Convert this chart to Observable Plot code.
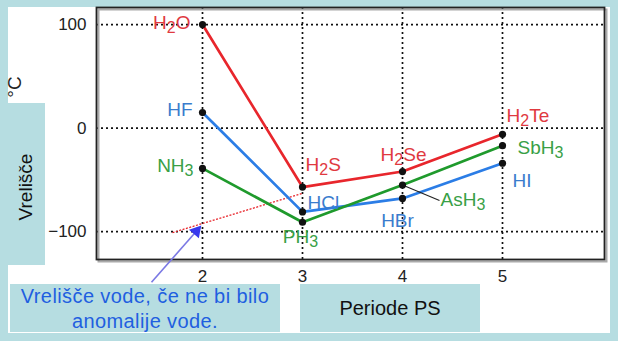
<!DOCTYPE html>
<html>
<head>
<meta charset="utf-8">
<script src="https://cdn.jsdelivr.net/npm/d3@7"></script>
<script src="https://cdn.jsdelivr.net/npm/@observablehq/plot@0.6"></script>
<style>
  html, body { margin: 0; padding: 0; }
  body { width: 618px; height: 341px; overflow: hidden; position: relative; background: #b6dde1; font-family: "Liberation Sans", Arial, sans-serif; }
  .abs { position: absolute; }
  #panel { left: 8px; top: 7px; width: 602px; height: 326px; background: #fff; overflow: hidden; }
  #degc { left: 0px; top: 77px; width: 30px; height: 20px; transform: rotate(-90deg); font-size: 19px; color: #222; line-height: 20px; text-align: center; }
  #ybox { left: 8px; top: 103px; width: 37px; height: 162px; background: #b6dde1; }
  #ylab { left: -44px; top: 176px; width: 140px; height: 22px; transform: rotate(-90deg); font-size: 19px; color: #111; line-height: 22px; text-align: center; }
  #note { left: 10px; top: 284px; width: 270px; height: 48px; background: #b6dde1; color: #1f5fe0; font-size: 20px; letter-spacing: 0.4px; line-height: 25px; text-align: center; }
  #xbox { left: 300px; top: 284px; width: 180px; height: 48px; background: #b6dde1; color: #111; font-size: 20px; line-height: 48px; text-align: center; }
  #chart { left: 0; top: 0; }
</style>
</head>
<body>
<div id="panel" class="abs"></div>
<div id="degc" class="abs">°C</div>
<div id="ybox" class="abs"></div>
<div id="ylab" class="abs">Vrelišče</div>
<div id="note" class="abs">Vrelišče vode, če ne bi bilo<br>anomalije vode.</div>
<div id="xbox" class="abs">Periode PS</div>
<div id="chart" class="abs"></div>
<script>
// ---- data ----
const periods = [2, 3, 4, 5];
const oxygenGroup = ["H2O", "H2S", "H2Se", "H2Te"];
const oxygenBp = [100, -57, -42, -6];
const halogenGroup = ["HF", "HCl", "HBr", "HI"];
const halogenBp = [15, -81, -68, -34];
const nitrogenGroup = ["NH3", "PH3", "AsH3", "SbH3"];
const nitrogenBp = [-39, -91, -55, -17];
const xTicks = [2, 3, 4, 5];
const yTicks = [-100, 0, 100];
// water extrapolation (dotted) endpoints
const extrapPeriod = [1.7, 3];
const extrapBp = [-101, -63];
// annotation arrow (tail -> tip) and AsH3 leader end
const arrowPeriod = [1.49, 2.0];
const arrowBp = [-149, -93];
const leaderPeriod = [4, 4.37];
const leaderBp = [-55, -70];

// ---- styles / layout ----
const seriesNames = ["oxygen", "halogen", "nitrogen"];
const lineColors = ["#e8262c", "#2b7de6", "#1f9a2c"];
const textColors = {oxygen: "#e0393f", halogen: "#3a7ccd", nitrogen: "#38a046"};
const labelLayout = {
  H2O:  {anchor: "end",    dx: -12, dy: -2},
  HF:   {anchor: "end",    dx: -10, dy: -3},
  NH3:  {anchor: "end",    dx: -9,  dy: -3},
  H2S:  {anchor: "start",  dx: 3,   dy: -22},
  HCl:  {anchor: "start",  dx: 5,   dy: -9},
  PH3:  {anchor: "middle", dx: -2,  dy: 15},
  H2Se: {anchor: "middle", dx: 1,   dy: -17},
  AsH3: {anchor: "start",  dx: 38,  dy: 15},
  HBr:  {anchor: "middle", dx: -5,  dy: 22},
  H2Te: {anchor: "start",  dx: 4,   dy: -18},
  SbH3: {anchor: "start",  dx: 15,  dy: 2},
  HI:   {anchor: "start",  dx: 10,  dy: 18}
};

const rows = [];
[[oxygenGroup, oxygenBp, "oxygen"], [halogenGroup, halogenBp, "halogen"], [nitrogenGroup, nitrogenBp, "nitrogen"]]
  .forEach(([names, vals, s]) => names.forEach((n, i) => rows.push({name: n, period: periods[i], bp: vals[i], series: s})));

const extrap = [{x1: extrapPeriod[0], y1: extrapBp[0], x2: extrapPeriod[1], y2: extrapBp[1]}];
const t = 0.88;
const arrow = [{
  x1: arrowPeriod[0], y1: arrowBp[0],
  hx: arrowPeriod[0] + t * (arrowPeriod[1] - arrowPeriod[0]),
  hy: arrowBp[0] + t * (arrowBp[1] - arrowBp[0])
}];
const leader = [{x1: leaderPeriod[0], y1: leaderBp[0], x2: leaderPeriod[1], y2: leaderBp[1]}];

const gridStyle = {stroke: "#111", strokeWidth: 1.7, strokeDasharray: "2,3", strokeOpacity: 1};

const labelMarks = rows.map(r => {
  const L = labelLayout[r.name];
  return Plot.text([r], {
    x: "period", y: "bp", text: "name",
    fill: textColors[r.series], textAnchor: L.anchor, dx: L.dx, dy: L.dy,
    fontSize: 19, lineAnchor: "middle"
  });
});

const chart = Plot.plot({
  width: 618, height: 341,
  marginLeft: 96, marginTop: 7, marginRight: 14, marginBottom: 82,
  style: {background: "transparent", fontFamily: "Liberation Sans, Arial, sans-serif", fontSize: "17px", color: "#222"},
  x: {domain: [0.94, 6.02], ticks: xTicks, tickSize: 0, tickPadding: 10, label: null, tickFormat: d3.format("d")},
  y: {domain: [-127, 116.5], ticks: yTicks, tickSize: 0, tickPadding: 10, label: null},
  color: {domain: seriesNames, range: lineColors},
  marks: [
    Plot.ruleY(yTicks, gridStyle),
    Plot.ruleX(xTicks, gridStyle),
    Plot.frame({stroke: "#aaa", strokeWidth: 2, dx: 2, dy: 2}),
    Plot.frame({stroke: "#222", strokeWidth: 1.8}),
    Plot.link(extrap, {x1: "x1", y1: "y1", x2: "x2", y2: "y2", stroke: "#e8262c", strokeWidth: 1.3, strokeDasharray: "2,1.5"}),
    Plot.line(rows, {x: "period", y: "bp", z: "series", stroke: "series", strokeWidth: 2.7}),
    Plot.link(leader, {x1: "x1", y1: "y1", x2: "x2", y2: "y2", stroke: "#222", strokeWidth: 1.1}),
    Plot.dot(rows, {x: "period", y: "bp", r: 3.6, fill: "#111"}),
    Plot.link(arrow, {x1: "x1", y1: "y1", x2: "hx", y2: "hy", stroke: "#7a78e4", strokeWidth: 1.6}),
    Plot.dot(arrow, {x: "hx", y: "hy", symbol: "triangle2", r: 6.2, fill: "#3838ee", rotate: 41}),
    ...labelMarks
  ]
});

// render subscripts for chemical formulas
const formulaSet = new Set(rows.map(r => r.name));
chart.querySelectorAll("text").forEach(el => {
  const s = el.textContent;
  if (!formulaSet.has(s)) return;
  el.textContent = "";
  let shifted = false;
  s.match(/\d+|\D+/g).forEach(p => {
    const ts = document.createElementNS("http://www.w3.org/2000/svg", "tspan");
    ts.textContent = p;
    if (/\d/.test(p)) { ts.setAttribute("font-size", "16"); ts.setAttribute("dy", "4"); shifted = true; }
    else if (shifted) { ts.setAttribute("dy", "-4"); shifted = false; }
    el.appendChild(ts);
  });
});

document.getElementById("chart").appendChild(chart);
</script>
</body>
</html>
